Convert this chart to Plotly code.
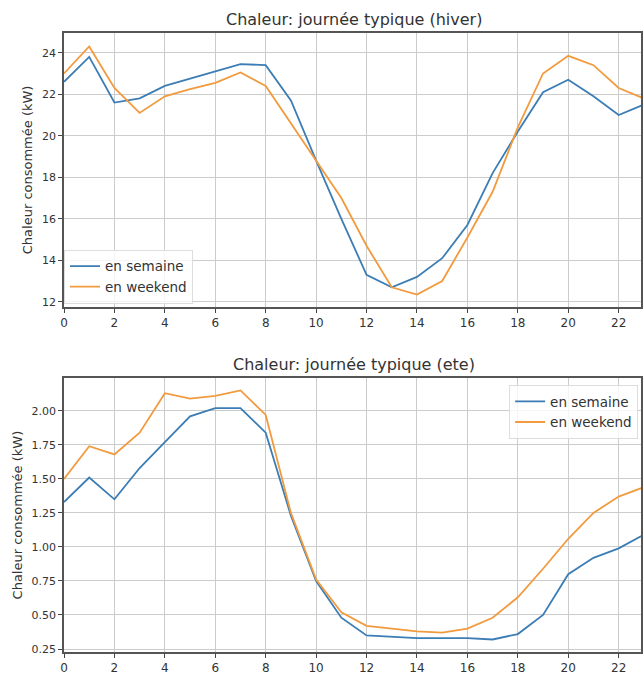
import plotly.graph_objects as go

heures = list(range(24))

hiver_semaine = [22.6, 23.8, 21.6, 21.8, 22.4, 22.75, 23.1, 23.45, 23.4, 21.7, 18.8, 16.0,
                 13.3, 12.7, 13.2, 14.1, 15.7, 18.2, 20.2, 22.1, 22.7, 21.9, 21.0, 21.5]
hiver_weekend = [23.0, 24.3, 22.3, 21.1, 21.9, 22.25, 22.55, 23.05, 22.4, 20.6, 18.8, 17.0,
                 14.7, 12.7, 12.35, 13.0, 15.1, 17.3, 20.4, 23.0, 23.85, 23.4, 22.3, 21.8]

ete_semaine = [1.33, 1.51, 1.35, 1.58, 1.77, 1.96, 2.02, 2.02, 1.84, 1.23, 0.75, 0.48,
               0.35, 0.34, 0.33, 0.33, 0.33, 0.32, 0.36, 0.50, 0.80, 0.92, 0.99, 1.09]
ete_weekend = [1.50, 1.74, 1.68, 1.84, 2.13, 2.09, 2.11, 2.15, 1.97, 1.25, 0.76, 0.52,
               0.42, 0.40, 0.38, 0.37, 0.40, 0.48, 0.63, 0.84, 1.06, 1.25, 1.37, 1.44]

titres = ["Chaleur: journée typique (hiver)", "Chaleur: journée typique (ete)"]
noms = ["en semaine", "en weekend"]
x_ticks = list(range(0, 24, 2))
y_ticks_hiver = [12, 14, 16, 18, 20, 22, 24]
y_ticks_ete = [0.25, 0.50, 0.75, 1.00, 1.25, 1.50, 1.75, 2.00]
y_label = "Chaleur consommée (kW)"

BLUE = "#3b7db4"
ORANGE = "#f29a3e"
FONT = "DejaVu Sans"
TXT = "#333333"

fig = go.Figure()
fig.add_trace(go.Scatter(x=heures, y=hiver_semaine, mode="lines", name=noms[0],
                         line=dict(color=BLUE, width=1.8), xaxis="x", yaxis="y", legend="legend"))
fig.add_trace(go.Scatter(x=heures, y=hiver_weekend, mode="lines", name=noms[1],
                         line=dict(color=ORANGE, width=1.8), xaxis="x", yaxis="y", legend="legend"))
fig.add_trace(go.Scatter(x=heures, y=ete_semaine, mode="lines", name=noms[0],
                         line=dict(color=BLUE, width=1.8), xaxis="x2", yaxis="y2", legend="legend2"))
fig.add_trace(go.Scatter(x=heures, y=ete_weekend, mode="lines", name=noms[1],
                         line=dict(color=ORANGE, width=1.8), xaxis="x2", yaxis="y2", legend="legend2"))

W, H = 643, 675
ml, mr, mt, mb = 64, 0, 33, 18
ph = H - mt - mb

def yf(p):
    return (H - mb - p) / ph

axis_common = dict(showgrid=True, gridcolor="#cccccc", gridwidth=1, showline=True,
                   linecolor="#555555", linewidth=1.5, mirror=True, ticks="outside",
                   ticklen=4, tickcolor="#444444", zeroline=False)
xfont = dict(family=FONT, size=12, color=TXT)
yfont = dict(family=FONT, size=11, color=TXT)
labfont = dict(family=FONT, size=13, color=TXT)
legfont = dict(family=FONT, size=13.5, color=TXT)
titfont = dict(family=FONT, size=16, color=TXT)

xr = [0, (W - ml - mr) / 25.3]

fig.update_layout(
    width=W, height=H,
    margin=dict(l=ml, r=mr, t=mt, b=mb),
    paper_bgcolor="white", plot_bgcolor="white",
    font=dict(family=FONT, size=12, color=TXT),
    xaxis=dict(domain=[0, 1], anchor="y", range=xr, tickvals=x_ticks, tickfont=xfont, **axis_common),
    yaxis=dict(domain=[yf(309), 1], anchor="x", range=[11.76, 24.95], tickvals=y_ticks_hiver,
               tickfont=yfont, title=dict(text=y_label, font=labfont, standoff=6), **axis_common),
    xaxis2=dict(domain=[0, 1], anchor="y2", range=xr, tickvals=x_ticks, tickfont=xfont, **axis_common),
    yaxis2=dict(domain=[0, yf(381)], anchor="x2", range=[0.228, 2.24], tickvals=y_ticks_ete,
                tickformat=".2f", tickfont=yfont,
                title=dict(text=y_label, font=labfont, standoff=6), **axis_common),
    legend=dict(x=0.0, y=yf(306), xanchor="left", yanchor="bottom",
                bgcolor="rgba(255,255,255,0.8)", bordercolor="#dddddd", borderwidth=1,
                font=legfont, tracegroupgap=0, itemwidth=30),
    legend2=dict(x=0.995, y=yf(388), xanchor="right", yanchor="top",
                 bgcolor="rgba(255,255,255,0.8)", bordercolor="#dddddd", borderwidth=1,
                 font=legfont, tracegroupgap=0, itemwidth=30),
    annotations=[
        dict(text=titres[0], xref="paper", yref="paper", x=(355 - ml) / (W - ml), y=yf(19),
             showarrow=False, xanchor="center", yanchor="middle", font=titfont),
        dict(text=titres[1], xref="paper", yref="paper", x=(355 - ml) / (W - ml), y=yf(367),
             showarrow=False, xanchor="center", yanchor="middle", font=titfont),
    ],
)

fig.write_html("out.html", config={"displayModeBar": False},
               post_script="document.body.style.margin='0';document.body.style.overflow='hidden';")
